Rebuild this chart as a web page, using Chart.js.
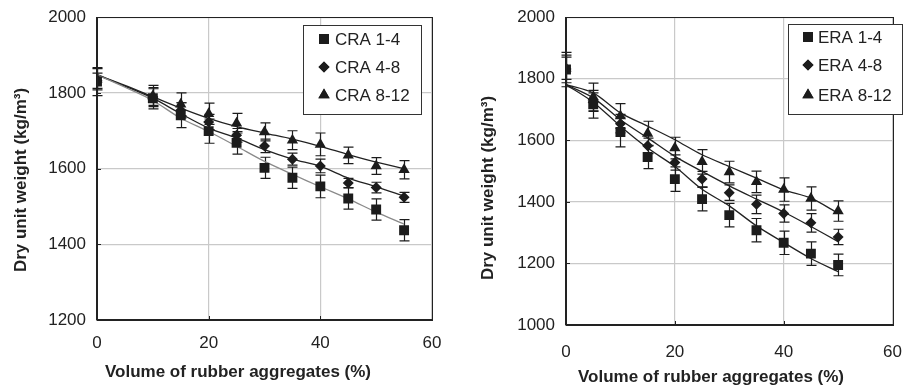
<!DOCTYPE html>
<html><head><meta charset="utf-8">
<script src="https://cdn.jsdelivr.net/npm/chart.js@4"></script>
<style>
html,body{margin:0;padding:0;background:#fff;}
#wrap{position:relative;width:919px;height:386px;overflow:hidden;}
.c{position:absolute;top:0;height:386px;}
</style></head><body>
<div id="wrap">
<div class="c" style="left:0;width:460px"><canvas id="c1"></canvas></div>
<div class="c" style="left:460px;width:459px"><canvas id="c2"></canvas></div>
</div>
<script>
// ---------- data: left chart (CRA) ----------
const xLeft   = [0, 10, 15, 20, 25, 30, 35, 40, 45, 50, 55];
const cra14   = [1830, 1786, 1741, 1699, 1668, 1602, 1576, 1553, 1521, 1492, 1437];
const cra48   = [1832, 1789, 1754, 1723, 1688, 1660, 1625, 1607, 1562, 1550, 1524];
const cra812  = [1836, 1792, 1770, 1745, 1720, 1697, 1675, 1664, 1635, 1607, 1597];
const cra14Err  = [37, 28, 33, 32, 30, 28, 28, 30, 28, 28, 28];
const cra48Err  = [20, 22, 20, 20, 18, 18, 16, 18, 12, 14, 13];
const cra812Err = [28, 28, 30, 28, 26, 24, 25, 30, 22, 22, 24];
const xLeftFit  = [0, 5, 10, 15, 20, 25, 30, 35, 40, 45, 50, 55];
const cra14Fit  = [1848, 1815, 1780, 1733, 1698, 1659, 1619, 1585, 1552, 1520, 1485, 1453];
const cra48Fit  = [1848, 1818, 1786, 1745, 1707, 1681, 1650, 1625, 1606, 1575, 1552, 1527];
const cra812Fit = [1848, 1820, 1790, 1760, 1733, 1711, 1694, 1678, 1659, 1637, 1617, 1600];
const craLabels = ['CRA 1-4', 'CRA 4-8', 'CRA 8-12'];

// ---------- data: right chart (ERA) ----------
const xRight  = [0, 5, 10, 15, 20, 25, 30, 35, 40, 45, 50];
const era14   = [1830, 1717, 1627, 1546, 1474, 1409, 1357, 1308, 1267, 1232, 1195];
const era48   = [1832, 1724, 1654, 1582, 1528, 1474, 1430, 1392, 1362, 1332, 1286];
const era812  = [1834, 1741, 1679, 1622, 1575, 1530, 1497, 1465, 1440, 1411, 1370];
const era14Err  = [56, 45, 48, 38, 40, 38, 38, 38, 38, 38, 35];
const era48Err  = [45, 30, 30, 25, 25, 25, 25, 30, 28, 30, 25];
const era812Err = [36, 45, 40, 40, 35, 40, 35, 35, 38, 38, 33];
const xRightFit = [0, 5, 10, 15, 20, 25, 30, 35, 40, 45, 50];
const era14Fit  = [1781, 1724, 1646, 1575, 1515, 1441, 1387, 1322, 1268, 1216, 1173];
const era48Fit  = [1781, 1738, 1667, 1608, 1548, 1499, 1452, 1409, 1367, 1320, 1271];
const era812Fit = [1781, 1754, 1689, 1646, 1602, 1553, 1515, 1477, 1439, 1412, 1363];
const eraLabels = ['ERA 1-4', 'ERA 4-8', 'ERA 8-12'];

const xTitle = 'Volume of rubber aggregates (%)';
const yTitle = 'Dry unit weight (kg/m\u00B3)';

const FONT = '"Liberation Sans", Arial, Helvetica, sans-serif';
const INK = '#1c1c1c';
const styles = [
  {pointStyle: 'rect', radius: 7},
  {pointStyle: 'rectRot', radius: 5.5},
  {pointStyle: 'triangle', radius: 6.5}
];

function pts(xs, ys) { return xs.map((x, i) => ({x: x, y: ys[i]})); }

function markerDs(label, xs, ys, errs, k) {
  return {
    type: 'line', label: label, data: pts(xs, ys), errors: errs,
    showLine: false, pointStyle: styles[k].pointStyle, pointRadius: styles[k].radius,
    pointBackgroundColor: INK, pointBorderColor: INK, pointBorderWidth: 0, order: 0
  };
}
function fitDs(xs, ys, color) {
  return {
    type: 'line', label: '_fit', data: pts(xs, ys), borderColor: color, borderWidth: 1.3,
    pointRadius: 0, tension: 0.3, fill: false, order: 1
  };
}

const errPlugin = {
  id: 'errbars',
  beforeDatasetsDraw(chart) {
    const ctx = chart.ctx, xs = chart.scales.x, ys = chart.scales.y;
    ctx.save();
    ctx.strokeStyle = INK; ctx.lineWidth = 1.2;
    chart.data.datasets.forEach(ds => {
      if (!ds.errors) return;
      ds.data.forEach((p, i) => {
        const px = Math.round(xs.getPixelForValue(p.x)) + 0.5;
        const top = ys.getPixelForValue(p.y + ds.errors[i]);
        const bot = ys.getPixelForValue(p.y - ds.errors[i]);
        ctx.beginPath();
        ctx.moveTo(px, top); ctx.lineTo(px, bot);
        ctx.moveTo(px - 5, top); ctx.lineTo(px + 5, top);
        ctx.moveTo(px - 5, bot); ctx.lineTo(px + 5, bot);
        ctx.stroke();
      });
    });
    ctx.restore();
  }
};

const decoPlugin = {
  id: 'deco',
  afterDraw(chart, args, o) {
    const ctx = chart.ctx, a = chart.chartArea;
    ctx.save();
    ctx.strokeStyle = '#222'; ctx.lineWidth = 1;
    ctx.strokeRect(Math.round(a.left) + 0.5, Math.round(a.top) + 0.5,
                   Math.round(a.right - a.left), Math.round(a.bottom - a.top));
    // inward tick marks
    ctx.beginPath();
    chart.scales.y.ticks.forEach(t => {
      const py = Math.round(chart.scales.y.getPixelForValue(t.value)) + 0.5;
      ctx.moveTo(a.left, py); ctx.lineTo(a.left + 4, py);
    });
    chart.scales.x.ticks.forEach(t => {
      const px = Math.round(chart.scales.x.getPixelForValue(t.value)) + 0.5;
      ctx.moveTo(px, a.bottom); ctx.lineTo(px, a.bottom - 4);
    });
    ctx.stroke();
    const b = o.box;
    ctx.fillStyle = '#fff';
    ctx.fillRect(b.x, b.y, b.w, b.h);
    ctx.strokeStyle = '#333'; ctx.lineWidth = 1;
    ctx.strokeRect(b.x + 0.5, b.y + 0.5, b.w, b.h);
    ctx.font = '17px ' + FONT;
    ctx.textBaseline = 'middle'; ctx.textAlign = 'left';
    const labels = chart.data.datasets.filter(d => d.errors);
    labels.forEach((d, i) => {
      const y = o.rows[i];
      ctx.fillStyle = INK;
      Chart.helpers.drawPoint(ctx, {pointStyle: d.pointStyle, radius: d.pointRadius, rotation: 0}, o.mx, y);
      ctx.fill();
      ctx.fillStyle = '#222';
      ctx.fillText(d.label, o.tx, y + 1);
    });
    ctx.fillStyle = '#222';
    ctx.font = 'bold 17px ' + FONT;
    ctx.textAlign = 'center';
    ctx.fillText(xTitle, o.xt.x, o.xt.y);
    ctx.translate(o.yt.x, o.yt.y);
    ctx.rotate(-Math.PI / 2);
    ctx.fillText(yTitle, 0, 0);
    ctx.restore();
  }
};

function makeChart(id, datasets, ymin, ymax, pad, yw, xh, xpad, deco) {
  return new Chart(document.getElementById(id), {
    type: 'line',
    data: {datasets: datasets},
    plugins: [errPlugin, decoPlugin],
    options: {
      responsive: true, maintainAspectRatio: false, animation: false, devicePixelRatio: 1,
      layout: {padding: pad},
      plugins: {legend: {display: false}, tooltip: {enabled: false}, deco: deco},
      scales: {
        x: {
          type: 'linear', min: 0, max: 60,
          ticks: {stepSize: 20, color: '#222', font: {family: FONT, size: 17}, padding: xpad,
                  callback: v => String(v)},
          grid: {color: '#c9c9c9', lineWidth: 1.2, drawTicks: false},
          border: {color: '#222', width: 1.3},
          afterFit(s) { s.height = xh; }
        },
        y: {
          type: 'linear', min: ymin, max: ymax,
          ticks: {stepSize: 200, color: '#222', font: {family: FONT, size: 17}, padding: 7,
                  callback: v => String(v)},
          grid: {color: '#c9c9c9', lineWidth: 1.2, drawTicks: true, tickLength: 4,
                 tickColor: 'rgba(0,0,0,0)'},
          border: {color: '#222', width: 1.3},
          afterFit(s) { s.width = yw; }
        }
      }
    }
  });
}

makeChart('c1', [
  fitDs(xLeftFit, cra14Fit, '#8a8a8a'),
  fitDs(xLeftFit, cra48Fit, '#222'),
  fitDs(xLeftFit, cra812Fit, '#222'),
  markerDs(craLabels[0], xLeft, cra14, cra14Err, 0),
  markerDs(craLabels[1], xLeft, cra48, cra48Err, 1),
  markerDs(craLabels[2], xLeft, cra812, cra812Err, 2)
], 1200, 2000, {top: 17, right: 28, left: 0, bottom: 0}, 97, 66, 13, {
  box: {x: 303, y: 25, w: 118, h: 89}, mx: 324, tx: 335, rows: [39, 67, 95],
  xt: {x: 238, y: 372}, yt: {x: 21, y: 180}
});

makeChart('c2', [
  fitDs(xRightFit, era14Fit, '#222'),
  fitDs(xRightFit, era48Fit, '#222'),
  fitDs(xRightFit, era812Fit, '#222'),
  markerDs(eraLabels[0], xRight, era14, era14Err, 0),
  markerDs(eraLabels[1], xRight, era48, era48Err, 1),
  markerDs(eraLabels[2], xRight, era812, era812Err, 2)
], 1000, 2000, {top: 17, right: 10, left: 0, bottom: 0}, 106, 61, 17, {
  box: {x: 328, y: 24, w: 114, h: 90}, mx: 348, tx: 358, rows: [37, 65, 95],
  xt: {x: 251, y: 377}, yt: {x: 28, y: 188}
});
</script>
</body></html>
